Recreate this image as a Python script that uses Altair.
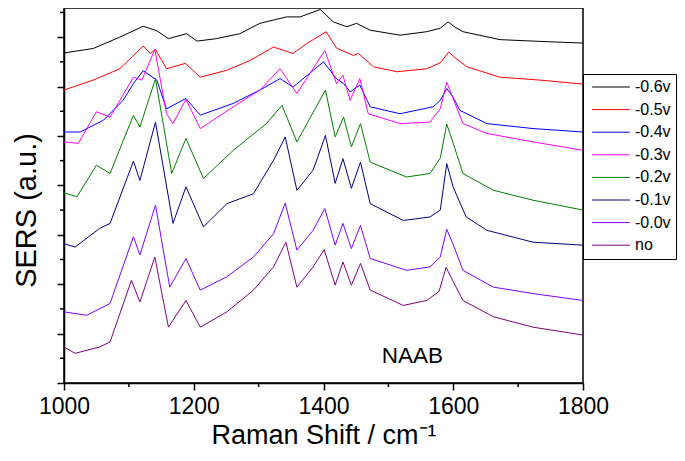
import altair as alt
import pandas as pd

series_names = ["-0.6v", "-0.5v", "-0.4v", "-0.3v", "-0.2v", "-0.1v", "-0.0v", "no"]
series_colors = ["#000000", "#ff0000", "#0000ff", "#ff00ff", "#008000", "#000080", "#8000ff", "#800080"]

shift_m06 = [1000, 1045, 1086, 1122, 1143, 1161, 1189, 1205, 1235, 1271, 1302, 1343, 1364, 1395, 1415, 1436, 1451, 1472, 1518, 1559, 1580, 1592, 1603, 1615, 1672, 1723, 1800]
sers_m06 = [6.68, 6.77, 7.00, 7.22, 7.13, 6.97, 7.07, 6.92, 6.97, 7.07, 7.28, 7.41, 7.41, 7.56, 7.31, 7.21, 7.28, 7.14, 7.04, 7.11, 7.18, 7.31, 7.20, 7.11, 6.95, 6.92, 6.88]

shift_m05 = [1000, 1045, 1086, 1122, 1133, 1141, 1158, 1187, 1210, 1251, 1287, 1323, 1353, 1374, 1404, 1420, 1446, 1454, 1477, 1513, 1559, 1580, 1593, 1603, 1621, 1672, 1734, 1800]
sers_m05 = [5.93, 6.13, 6.36, 6.82, 6.67, 6.75, 6.36, 6.47, 6.19, 6.33, 6.53, 6.80, 6.67, 6.87, 7.11, 6.78, 6.63, 6.67, 6.40, 6.30, 6.36, 6.48, 6.70, 6.58, 6.40, 6.19, 6.13, 6.05]

shift_m04 = [1000, 1025, 1061, 1091, 1107, 1122, 1143, 1158, 1188, 1210, 1261, 1302, 1333, 1353, 1400, 1420, 1431, 1441, 1456, 1472, 1518, 1569, 1580, 1590, 1600, 1610, 1652, 1723, 1800]
sers_m04 = [5.08, 5.08, 5.32, 5.72, 6.06, 6.32, 6.13, 5.55, 5.76, 5.42, 5.66, 5.93, 6.16, 5.99, 6.50, 6.16, 6.06, 5.89, 6.03, 5.59, 5.45, 5.59, 5.72, 5.96, 5.78, 5.52, 5.25, 5.15, 5.08]

shift_m03 = [1000, 1022, 1050, 1071, 1107, 1120, 1140, 1158, 1168, 1188, 1210, 1261, 1302, 1333, 1359, 1402, 1420, 1430, 1441, 1456, 1469, 1518, 1564, 1580, 1590, 1600, 1615, 1652, 1723, 1800]
sers_m03 = [4.88, 4.85, 5.49, 5.38, 6.19, 6.13, 6.75, 5.45, 5.25, 5.74, 5.15, 5.59, 5.93, 6.36, 5.86, 6.73, 6.06, 6.23, 5.72, 6.16, 5.45, 5.25, 5.28, 5.55, 6.09, 5.75, 5.25, 5.05, 4.88, 4.71]

shift_m02 = [1000, 1020, 1050, 1071, 1107, 1117, 1141, 1166, 1188, 1215, 1261, 1312, 1336, 1359, 1403, 1418, 1431, 1443, 1457, 1472, 1528, 1564, 1580, 1590, 1600, 1615, 1662, 1723, 1800]
sers_m02 = [3.85, 3.77, 4.41, 4.24, 5.42, 5.18, 6.16, 4.24, 4.95, 4.14, 4.71, 5.25, 5.62, 4.88, 5.93, 4.98, 5.38, 4.78, 5.25, 4.47, 4.17, 4.24, 4.55, 5.24, 4.85, 4.24, 3.90, 3.70, 3.50]

shift_m01 = [1000, 1017, 1055, 1071, 1107, 1117, 1141, 1168, 1188, 1215, 1251, 1292, 1323, 1341, 1359, 1384, 1403, 1418, 1430, 1443, 1457, 1472, 1523, 1564, 1580, 1590, 1600, 1620, 1652, 1723, 1800]
sers_m01 = [2.82, 2.75, 3.13, 3.23, 4.49, 4.10, 5.28, 3.23, 3.97, 3.16, 3.63, 3.83, 4.51, 4.98, 3.90, 4.31, 5.01, 4.04, 4.54, 3.94, 4.47, 3.63, 3.29, 3.36, 3.50, 4.44, 3.96, 3.36, 3.09, 2.85, 2.79]

shift_m00 = [1000, 1035, 1071, 1107, 1117, 1141, 1163, 1188, 1210, 1251, 1292, 1323, 1341, 1359, 1384, 1402, 1418, 1430, 1443, 1457, 1472, 1528, 1564, 1580, 1590, 1600, 1615, 1662, 1723, 1800]
sers_m00 = [1.44, 1.37, 1.61, 2.96, 2.59, 3.60, 1.94, 2.52, 1.88, 2.15, 2.55, 3.02, 3.64, 2.69, 3.09, 3.53, 2.79, 3.23, 2.72, 3.19, 2.52, 2.28, 2.35, 2.55, 3.11, 2.80, 2.28, 1.94, 1.81, 1.67]

shift_no = [1000, 1017, 1055, 1071, 1104, 1117, 1140, 1161, 1188, 1210, 1251, 1292, 1323, 1342, 1359, 1384, 1401, 1418, 1430, 1443, 1457, 1472, 1523, 1559, 1578, 1589, 1600, 1615, 1662, 1723, 1800]
sers_no = [0.73, 0.60, 0.73, 0.83, 2.08, 1.64, 2.55, 1.13, 1.67, 1.13, 1.44, 1.88, 2.35, 2.85, 1.94, 2.35, 2.70, 1.98, 2.45, 1.98, 2.42, 1.88, 1.57, 1.67, 1.85, 2.34, 2.05, 1.67, 1.34, 1.13, 0.97]

x_major = [1000, 1200, 1400, 1600, 1800]
x_minor = [1100, 1300, 1500, 1700]
y_major = [0, 1, 2, 3, 4, 5, 6, 7]
y_minor = [0.5, 1.5, 2.5, 3.5, 4.5, 5.5, 6.5, 7.5]

label_text = ["NAAB"]
label_shift = [1537]
label_sers = [0.40]

all_shifts = [shift_m06, shift_m05, shift_m04, shift_m03, shift_m02, shift_m01, shift_m00, shift_no]
all_sers = [sers_m06, sers_m05, sers_m04, sers_m03, sers_m02, sers_m01, sers_m00, sers_no]

rows = []
for name, xs, ys in zip(series_names, all_shifts, all_sers):
    for xv, yv in zip(xs, ys):
        rows.append({"shift": xv, "sers": yv, "series": name})
df = pd.DataFrame(rows)

FONT = "Liberation Sans"
W, H = 519, 375
YTOP = 7.59

xscale = alt.Scale(domain=[1000, 1800], nice=False, zero=False)
yscale = alt.Scale(domain=[0, YTOP], nice=False, zero=False)

x_axis = alt.Axis(
    values=x_major, format="d", grid=False,
    tickSize=7, tickWidth=1.5, tickColor="black",
    domainColor="black", domainWidth=1.5,
    labelFont=FONT, labelFontSize=23, labelColor="black", labelPadding=5,
    labelFlush=False, labelOverlap=False,
    title="Raman Shift / cm⁻¹", titleFont=FONT, titleFontSize=27,
    titleFontWeight="normal", titleColor="black",
    titleY=60, titleBaseline="alphabetic",
)
y_axis = alt.Axis(
    values=y_major, labels=False, grid=False,
    tickSize=7, tickWidth=1.5, tickColor="black",
    domainColor="black", domainWidth=1.5,
    title="SERS (a.u.)", titleFont=FONT, titleFontSize=29,
    titleFontWeight="normal", titleColor="black",
    titleX=-29, titleY=202, titleBaseline="alphabetic", titleAngle=270,
)

lines = alt.Chart(df).mark_line(strokeWidth=1).encode(
    x=alt.X("shift:Q", scale=xscale, axis=x_axis),
    y=alt.Y("sers:Q", scale=yscale, axis=y_axis),
    color=alt.Color(
        "series:N",
        scale=alt.Scale(domain=series_names, range=series_colors),
        sort=series_names,
        legend=alt.Legend(
            title=None, orient="none", legendX=519, legendY=66,
            direction="vertical",
            symbolType="M-3.6,0H3.6", symbolSize=110, symbolStrokeWidth=1,
            labelFont=FONT, labelFontSize=16, labelColor="black",
            padding=5, rowPadding=6.6, symbolOffset=15, labelOffset=16,
            strokeColor="black", fillColor="white",
        ),
    ),
)

minor_x = alt.Chart(pd.DataFrame({"shift": x_minor})).mark_rule(
    color="black", strokeWidth=1.5
).encode(
    x=alt.X("shift:Q", scale=xscale, axis=x_axis),
    y=alt.value(H), y2=alt.value(H + 4),
)

minor_y = alt.Chart(pd.DataFrame({"sers": y_minor})).mark_rule(
    color="black", strokeWidth=1.5
).encode(
    y=alt.Y("sers:Q", scale=yscale, axis=y_axis),
    x=alt.value(-4), x2=alt.value(0),
)

label = alt.Chart(pd.DataFrame({"shift": label_shift, "sers": label_sers, "t": label_text})).mark_text(
    font=FONT, fontSize=22.5, color="black", align="center", baseline="alphabetic"
).encode(
    x=alt.X("shift:Q", scale=xscale, axis=x_axis),
    y=alt.Y("sers:Q", scale=yscale, axis=y_axis),
    text="t:N",
)

chart = alt.layer(lines, minor_x, minor_y, label).properties(
    width=W, height=H,
    autosize=alt.AutoSizeParams(type="none"),
    padding={"left": 56, "top": 0, "right": 94, "bottom": 66},
    background="white",
).configure_view(stroke="black", strokeWidth=1.5)

chart.save("out.html", embed_options={"renderer": "svg", "actions": False})
